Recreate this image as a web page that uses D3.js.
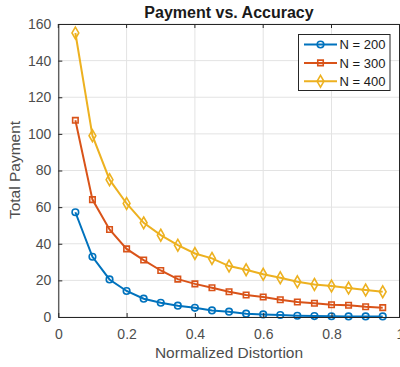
<!DOCTYPE html>
<html><head><meta charset="utf-8">
<script src="https://cdn.jsdelivr.net/npm/d3@7"></script>
<style>body{margin:0;background:#fff;} svg{display:block;font-family:Arial,"Liberation Sans",Helvetica,sans-serif;}</style>
</head><body>
<svg id="c" width="400" height="367"></svg>
<script>
const xVals = [0.05,0.1,0.15,0.2,0.25,0.3,0.35,0.4,0.45,0.5,0.55,0.6,0.65,0.7,0.75,0.8,0.85,0.9,0.95];
const n200 = [57.2,32.9,20.5,14.2,10,7.8,6.2,5.0,3.6,2.9,1.8,1.4,1.1,0.7,0.5,0.4,0.3,0.3,0.3];
const n300 = [107.4,64.1,47.8,37.2,31.1,25.4,20.7,18.1,16,13.8,12,10.9,9.4,8.2,7.5,6.7,6.4,5.6,5.1];
const n400 = [155.1,99,75,62,51.4,44.7,39.2,34.7,32,27.8,25.8,23.3,21.4,19.2,17.8,16.9,15.8,14.7,13.8];
const seriesNames = ["N = 200","N = 300","N = 400"];
const colors = ["#0072BD","#D95319","#EDB120"];
const markers = ["circle","square","diamond"];
const xTicks = [0,0.2,0.4,0.6,0.8,1];
const yTicks = [0,20,40,60,80,100,120,140,160];

const svg = d3.select("#c");
const L=58.3, R=399.8, T=24, B=317;
const x = d3.scaleLinear().domain([0,1]).range([L,R]);
const y = d3.scaleLinear().domain([0,160]).range([B,T]);
const axisCol = "#262626", textCol = "#4d4d4d";

// grid
const g = svg.append("g");
g.selectAll(".gx").data(xTicks).enter().append("line")
  .attr("x1",d=>x(d)).attr("x2",d=>x(d)).attr("y1",T).attr("y2",B)
  .attr("stroke","#e3e3e3").attr("stroke-width",1);
g.selectAll(".gy").data(yTicks).enter().append("line")
  .attr("y1",d=>y(d)).attr("y2",d=>y(d)).attr("x1",L).attr("x2",R)
  .attr("stroke","#e3e3e3").attr("stroke-width",1);

function symFor(m){ return m==="circle" ? d3.symbolCircle : m==="square" ? d3.symbolSquare : d3.symbolDiamond; }
function sizeFor(m){ return m==="circle" ? 34 : m==="square" ? 30 : 40; }

// series
const data = [n200,n300,n400];
data.forEach((vals,i)=>{
  const pts = xVals.map((xv,j)=>[xv,vals[j]]);
  svg.append("path").datum(pts)
    .attr("d", d3.line().x(d=>x(d[0])).y(d=>y(d[1])))
    .attr("fill","none").attr("stroke",colors[i]).attr("stroke-width",2);
  svg.append("g").selectAll("path").data(pts).enter().append("path")
    .attr("d", d3.symbol().type(symFor(markers[i])).size(sizeFor(markers[i])))
    .attr("transform", d=>`translate(${x(d[0])},${y(d[1])})`)
    .attr("fill","none").attr("stroke",colors[i]).attr("stroke-width",1.6);
});

// axes
const xa = svg.append("g").attr("transform",`translate(0,${B})`)
  .call(d3.axisBottom(x).tickValues(xTicks).tickFormat(d3.format("")).tickSizeInner(-4).tickSizeOuter(0).tickPadding(12));
const ya = svg.append("g").attr("transform",`translate(${L},0)`)
  .call(d3.axisLeft(y).tickValues(yTicks).tickSizeInner(-4).tickSizeOuter(0).tickPadding(7));
[xa,ya].forEach(a=>{
  a.select(".domain").attr("stroke",axisCol);
  a.selectAll(".tick line").attr("stroke",axisCol);
  a.selectAll("text").attr("fill",textCol).style("font-size","14px").style("font-family","Arial,'Liberation Sans',sans-serif");
});
// top and right box with ticks
svg.append("line").attr("x1",L).attr("x2",R).attr("y1",T+0.5).attr("y2",T+0.5).attr("stroke",axisCol);
svg.append("line").attr("x1",R-0.3).attr("x2",R-0.3).attr("y1",T).attr("y2",B).attr("stroke",axisCol);
svg.selectAll(".tt").data(xTicks).enter().append("line")
  .attr("x1",d=>x(d)).attr("x2",d=>x(d)).attr("y1",T).attr("y2",T+4).attr("stroke",axisCol);

// labels
svg.append("text").attr("x",229).attr("y",18).attr("text-anchor","middle")
  .attr("font-weight","bold").attr("font-size","16px").attr("fill","#1a1a1a").text("Payment vs. Accuracy");
svg.append("text").attr("x",229).attr("y",358).attr("text-anchor","middle")
  .attr("font-size","15.5px").attr("fill",textCol).text("Normalized Distortion");
svg.append("text").attr("transform","translate(19.5,170) rotate(-90)").attr("text-anchor","middle")
  .attr("font-size","15.5px").attr("fill",textCol).text("Total Payment");

// legend
const lg = svg.append("g");
lg.append("rect").attr("x",298.5).attr("y",34.5).attr("width",91.5).attr("height",56)
  .attr("fill","#fff").attr("stroke",axisCol).attr("stroke-width",1);
seriesNames.forEach((nm,i)=>{
  const yy = 44.5 + i*18.4;
  lg.append("line").attr("x1",304).attr("x2",337).attr("y1",yy).attr("y2",yy)
    .attr("stroke",colors[i]).attr("stroke-width",2);
  lg.append("path").attr("d",d3.symbol().type(symFor(markers[i])).size(sizeFor(markers[i])))
    .attr("transform",`translate(320.5,${yy})`).attr("fill","none").attr("stroke",colors[i]).attr("stroke-width",1.6);
  lg.append("text").attr("x",339.5).attr("y",yy+4.6).attr("font-size","13px").attr("fill","#1a1a1a").text(nm);
});
</script>
</body></html>
